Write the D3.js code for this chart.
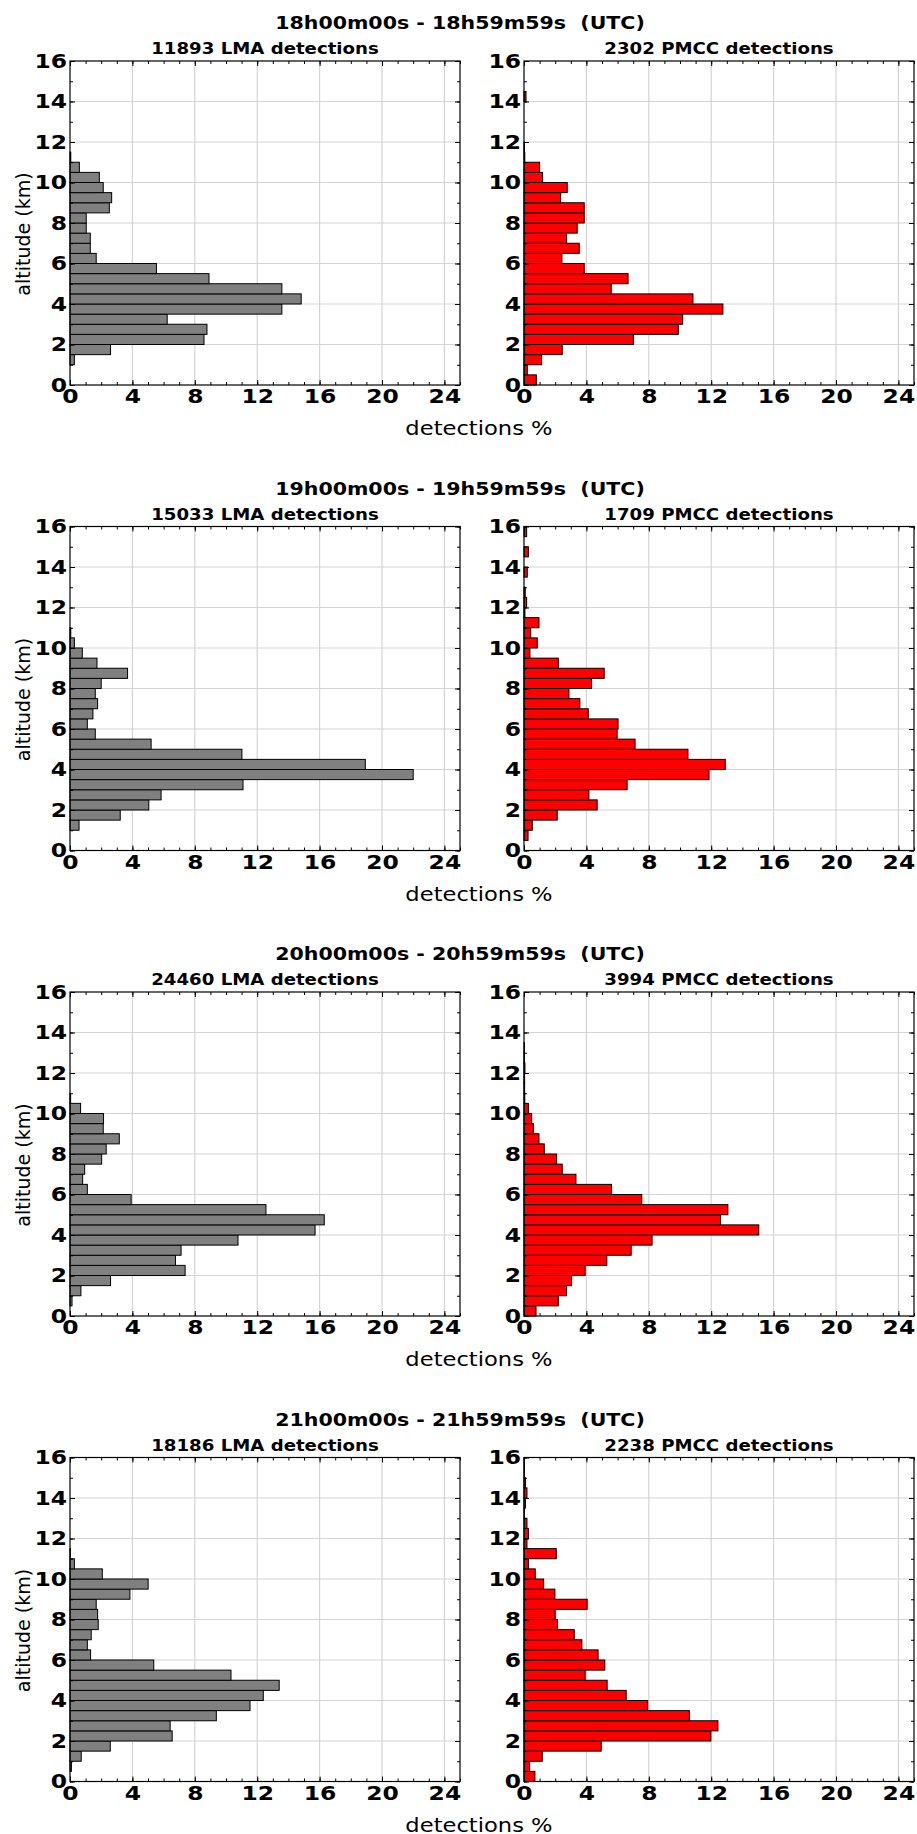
<!DOCTYPE html>
<html>
<head>
<meta charset="utf-8">
<script src="https://cdn.jsdelivr.net/npm/d3@7"></script>
<style>
  html, body { margin: 0; padding: 0; background: #fff; }
  svg text { font-family: "DejaVu Sans", sans-serif; }
</style>
</head>
<body>
<script>
// ---- data (percent of detections per 0.5 km altitude bin, bin 0 = 0-0.5 km) ----
const hours = ["18", "19", "20", "21"];
const lmaCounts = [11893, 15033, 24460, 18186];
const pmccCounts = [2302, 1709, 3994, 2238];
const binLow = d3.range(0, 16, 0.5);
const xTickLabels = [0, 4, 8, 12, 16, 20, 24];
const yTickLabels = [0, 2, 4, 6, 8, 10, 12, 14, 16];

const lma18 = [0, 0, 0.28, 2.6, 8.59, 8.78, 6.23, 13.58, 14.82, 13.58, 8.91, 5.54, 1.68, 1.3, 1.3, 1.04,
               1.04, 2.52, 2.67, 2.13, 1.88, 0.6, 0.05, 0, 0, 0, 0, 0, 0, 0, 0, 0];
const pmcc18 = [0.79, 0.21, 1.13, 2.45, 7.01, 9.89, 10.17, 12.75, 10.83, 5.59, 6.67, 3.86, 2.43, 3.54, 2.73, 3.41,
                3.86, 3.86, 2.35, 2.77, 1.19, 1.0, 0.05, 0.03, 0, 0, 0, 0, 0.13, 0, 0, 0];
const lma19 = [0, 0, 0.58, 3.22, 5.05, 5.84, 11.09, 22.0, 18.93, 11.02, 5.2, 1.62, 1.11, 1.47, 1.77, 1.62,
               2.0, 3.69, 1.73, 0.79, 0.28, 0.05, 0, 0, 0, 0, 0, 0, 0, 0, 0, 0];
const pmcc19 = [0, 0.26, 0.53, 2.13, 4.69, 4.16, 6.61, 11.86, 12.9, 10.51, 7.12, 5.97, 6.03, 4.12, 3.58, 2.88,
                4.33, 5.14, 2.2, 0.38, 0.85, 0.43, 0.96, 0.06, 0.17, 0.08, 0, 0.21, 0, 0.28, 0, 0.17];
const lma20 = [0, 0.13, 0.7, 2.6, 7.38, 6.76, 7.12, 10.77, 15.71, 16.3, 12.56, 3.92, 1.11, 0.81, 0.94, 2.03,
               2.32, 3.16, 2.13, 2.15, 0.68, 0.04, 0, 0, 0, 0, 0, 0, 0, 0, 0, 0];
const pmcc20 = [0.77, 2.2, 2.73, 3.05, 3.92, 5.31, 6.87, 8.21, 15.05, 12.6, 13.07, 7.55, 5.61, 3.33, 2.45, 2.09,
                1.3, 0.96, 0.6, 0.49, 0.28, 0.05, 0.04, 0.04, 0.06, 0.03, 0.03, 0, 0, 0, 0, 0];
const lma21 = [0, 0.09, 0.72, 2.58, 6.55, 6.42, 9.38, 11.54, 12.39, 13.41, 10.32, 5.37, 1.32, 1.11, 1.36, 1.81,
               1.77, 1.68, 3.84, 5.01, 2.07, 0.28, 0.03, 0, 0, 0, 0, 0, 0, 0, 0, 0];
const pmcc21 = [0.7, 0.36, 1.17, 4.95, 11.98, 12.43, 10.6, 7.93, 6.55, 5.33, 3.92, 5.18, 4.75, 3.71, 3.22, 2.15,
                2.0, 4.05, 1.98, 1.26, 0.72, 0.28, 2.07, 0.19, 0.28, 0.19, 0.03, 0.09, 0.19, 0.09, 0.03, 0.03];

const lmaSeries = [lma18, lma19, lma20, lma21];
const pmccSeries = [pmcc18, pmcc19, pmcc20, pmcc21];

// ---- layout ----
const W = 917, H = 1834;
const rowTop0 = 61, rowStep = 465.5, plotH = 324;
const panelX = [70, 524], plotW = 390;

const svg = d3.select("body").append("svg").attr("width", W).attr("height", H);

const x = d3.scaleLinear().domain([0, 25]).range([0, plotW]);
const y = d3.scaleLinear().domain([0, 16]).range([plotH, 0]);

// widen text horizontally (reference glyphs are horizontally stretched)
function stretch(sel, k) {
  sel.each(function () {
    const L = this.getComputedTextLength();
    this.setAttribute("textLength", (L * k).toFixed(2));
    this.setAttribute("lengthAdjust", "spacingAndGlyphs");
  });
}

function panel(g, values, fill, showYLabel, subtitle) {
  // grid
  g.append("g").selectAll("line").data(xTickLabels.filter(v => v > 0)).join("line")
    .attr("x1", d => x(d)).attr("x2", d => x(d)).attr("y1", 0).attr("y2", plotH)
    .attr("stroke", "#d4d4d4").attr("stroke-width", 1.2);
  g.append("g").selectAll("line").data(yTickLabels.filter(v => v > 0 && v < 16)).join("line")
    .attr("y1", d => y(d)).attr("y2", d => y(d)).attr("x1", 0).attr("x2", plotW)
    .attr("stroke", "#d4d4d4").attr("stroke-width", 1.2);

  // bars
  g.append("g").selectAll("rect").data(values.map((v, i) => ({ v, lo: binLow[i] })).filter(d => d.v > 0)).join("rect")
    .attr("x", x(0))
    .attr("y", d => y(d.lo + 0.5))
    .attr("width", d => x(d.v) - x(0))
    .attr("height", d => y(d.lo) - y(d.lo + 0.5))
    .attr("fill", fill).attr("stroke", "#000").attr("stroke-width", 1);

  // frame
  g.append("rect").attr("x", 0).attr("y", 0).attr("width", plotW).attr("height", plotH)
    .attr("fill", "none").attr("stroke", "#000").attr("stroke-width", 1.2);

  const styleAxis = sel => { sel.select(".domain").remove(); sel.selectAll("line").attr("stroke", "#000"); };

  // bottom ticks + labels
  g.append("g").attr("transform", `translate(0,${plotH})`)
    .call(d3.axisBottom(x).tickValues(d3.range(0, 26)).tickSize(-3).tickFormat("")).call(styleAxis);
  const bx = g.append("g").attr("transform", `translate(0,${plotH})`)
    .call(d3.axisBottom(x).tickValues(xTickLabels).tickSize(-5).tickPadding(4).tickFormat(d3.format("d"))).call(styleAxis);
  bx.selectAll("text").attr("font-size", 20).attr("font-weight", "bold").attr("fill", "#000")
    .attr("font-family", "DejaVu Sans").call(stretch, 1.17);
  // top ticks
  g.append("g").call(d3.axisTop(x).tickValues(d3.range(0, 26)).tickSize(-3).tickFormat("")).call(styleAxis);
  g.append("g").call(d3.axisTop(x).tickValues(xTickLabels).tickSize(-5).tickFormat("")).call(styleAxis);
  // left ticks + labels
  g.append("g").call(d3.axisLeft(y).tickValues(d3.range(0, 17)).tickSize(-3).tickFormat("")).call(styleAxis);
  const ly = g.append("g")
    .call(d3.axisLeft(y).tickValues(yTickLabels).tickSize(-5).tickPadding(3).tickFormat(d3.format("d"))).call(styleAxis);
  ly.selectAll("text").attr("font-size", 20).attr("font-weight", "bold").attr("fill", "#000")
    .attr("font-family", "DejaVu Sans").call(stretch, 1.17);
  // right ticks
  g.append("g").attr("transform", `translate(${plotW},0)`)
    .call(d3.axisRight(y).tickValues(d3.range(0, 17)).tickSize(-3).tickFormat("")).call(styleAxis);
  g.append("g").attr("transform", `translate(${plotW},0)`)
    .call(d3.axisRight(y).tickValues(yTickLabels).tickSize(-5).tickFormat("")).call(styleAxis);

  // subtitle
  g.append("text").attr("x", plotW / 2).attr("y", -7).attr("text-anchor", "middle")
    .attr("font-size", 16.5).attr("font-weight", "bold").text(subtitle).call(stretch, 1.1);

  if (showYLabel) {
    g.append("text").attr("transform", `translate(${23 - panelX[0]},${plotH / 2 + 11}) rotate(-90)`)
      .attr("text-anchor", "middle").attr("dy", "0.35em").attr("font-size", 19).text("altitude (km)");
  }
}

hours.forEach((h, i) => {
  const top = rowTop0 + rowStep * i;
  svg.append("text").attr("x", 460).attr("y", top - 32).attr("text-anchor", "middle")
    .attr("font-size", 18.5).attr("font-weight", "bold").style("white-space", "pre")
    .text(`${h}h00m00s - ${h}h59m59s  (UTC)`).call(stretch, 1.11);

  panel(svg.append("g").attr("transform", `translate(${panelX[0]},${top})`),
        lmaSeries[i], "#808080", true, `${lmaCounts[i]} LMA detections`);
  panel(svg.append("g").attr("transform", `translate(${panelX[1]},${top})`),
        pmccSeries[i], "#ff0000", false, `${pmccCounts[i]} PMCC detections`);

  svg.append("text").attr("x", 479).attr("y", top + 374).attr("text-anchor", "middle")
    .attr("font-size", 19).text("detections %").call(stretch, 1.19);
});
</script>
</body>
</html>
